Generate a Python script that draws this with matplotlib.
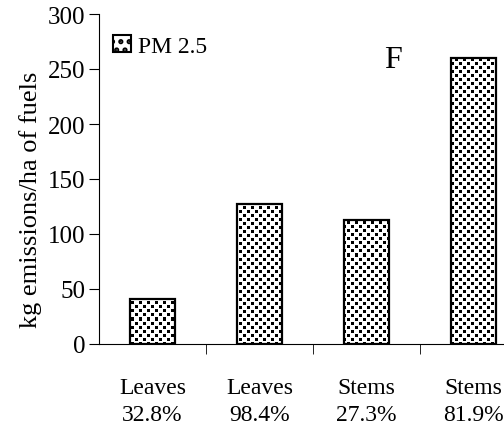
import matplotlib.pyplot as plt
from matplotlib.patches import Patch
import numpy as np

# datos
categorias = ["Leaves\n32.8%", "Leaves\n98.4%", "Stems\n27.3%", "Stems\n81.9%"]
pm25 = [41, 127, 113, 260]

plt.rcParams["font.family"] = ["Liberation Serif", "DejaVu Serif"]
plt.rcParams["hatch.linewidth"] = 2.5

fig = plt.figure(figsize=(5.04, 4.31), dpi=100)
ax_w, ax_h = 428, 330
ax = fig.add_axes([99 / 504, 86 / 431, ax_w / 504, ax_h / 431])

x = np.arange(len(pm25)) + 0.5
barras = ax.bar(x, pm25, width=0.42, facecolor="none", edgecolor="black",
                linewidth=1.6, zorder=3)

# textura de cuadritos (como el relleno de Excel)
tile = np.ones((8, 8))
tile[0:3, 0:3] = 0
tile[4:7, 4:7] = 0
textura = np.tile(tile, (ax_h // 8 + 1, ax_w // 8 + 1))[:ax_h, :ax_w]
for b in barras:
    im = ax.imshow(textura, cmap="gray", vmin=0, vmax=1, extent=(0, 4, 0, 300),
                   interpolation="nearest", aspect="auto", zorder=2)
    im.set_clip_path(b)

ax.set_xlim(0, 4)
ax.set_ylim(0, 300)
ax.set_yticks(range(0, 301, 50))
ax.set_xticks(x)
ax.set_xticklabels(categorias, fontsize=17, linespacing=1.33)
ax.set_xticks([1, 2, 3], minor=True)
ax.tick_params(axis="x", which="major", length=0, pad=24)
ax.tick_params(axis="x", which="minor", length=7, direction="out")
ax.tick_params(axis="y", labelsize=18, length=7, direction="out", pad=3)
ax.set_ylabel("kg emissions/ha of fuels", fontsize=19)
ax.yaxis.set_label_coords(-0.133, 0.44)

for lado in ["top", "right"]:
    ax.spines[lado].set_visible(False)

muestra = Patch(facecolor="white", edgecolor="black", hatch="..", linewidth=1.5)
ax.legend([muestra], ["PM 2.5"], loc="upper left", frameon=False, fontsize=17,
          handlelength=0.75, handleheight=0.7, handletextpad=0.3,
          borderaxespad=0.3, bbox_to_anchor=(-0.005, 0.985))
ax.text(0.667, 0.84, "F", transform=ax.transAxes, fontsize=23)

fig.savefig("out.png", dpi=100)
